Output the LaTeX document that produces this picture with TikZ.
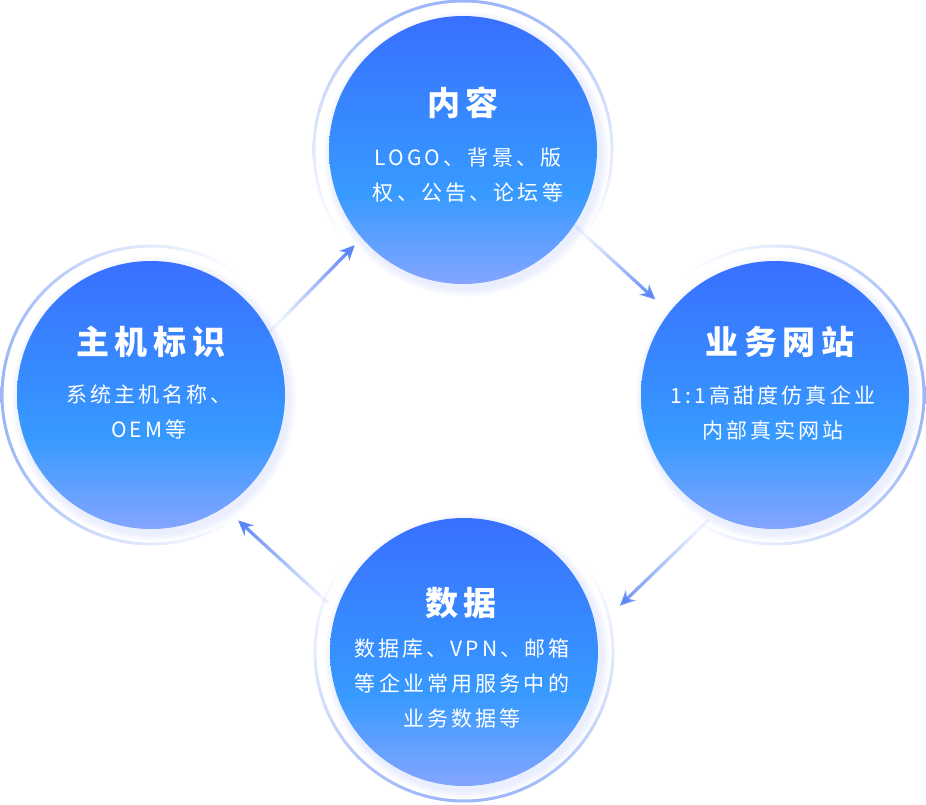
\documentclass[tikz,border=0pt]{standalone}
\usepackage{fontspec}
\usetikzlibrary{arrows.meta,fadings,backgrounds,calc}
\newfontfamily\cjktext[LetterSpace=15]{Noto Sans CJK SC}
\newfontfamily\cjktitle[LetterSpace=18]{Noto Sans CJK SC}

\definecolor{circtop}{HTML}{3870FF}
\definecolor{circmid}{HTML}{379AFF}
\definecolor{circbot}{HTML}{84A5FF}
\definecolor{ringc}{HTML}{9CB6F8}
\definecolor{arrowc}{HTML}{5A85F6}
\definecolor{glowc}{HTML}{4A6CF0}

\pgfdeclareverticalshading{bubbleshade}{100bp}{color(0bp)=(circbot); color(25bp)=(circbot); color(42bp)=(circmid); color(75bp)=(circtop); color(100bp)=(circtop)}
\pgfdeclareverticalshading{ringshade}{100bp}{color(0bp)=(white); color(35bp)=(white); color(58bp)=(ringc!45!white); color(75bp)=(ringc); color(100bp)=(ringc)}
\tikzfading[name=tailfade, left color=transparent!90, right color=transparent!0]

\tikzset{
  bubble/.style={circle, minimum size=268pt, inner sep=0pt, shading=bubbleshade},
  title/.style={text=white, font=\cjktitle\bfseries\fontsize{33}{38}\selectfont},
  body/.style={text=white, align=center, font=\cjktext\fontsize{21}{35}\selectfont},
  flow/.style={line width=3.2pt, arrowc, -{Stealth[length=15pt,width=14pt]}, path fading=tailfade}
}

\begin{document}
\begin{tikzpicture}[x=1pt,y=-1pt]
  \useasboundingbox (0,0) rectangle (926,804);

  % the four bubbles
  \node[bubble] (content) at (463,150) {};
  \node[bubble] (hostid) at (151,395) {};
  \node[bubble] (website) at (775,395) {};
  \node[bubble] (data) at (464,652) {};

  % soft glow and outer rings
  \begin{scope}[on background layer]
    \foreach \c/\a in {content/0, hostid/90, website/-90, data/180}{
      \foreach \k in {2,4,...,8}
        \fill[glowc, opacity=0.03] ($(\c.center)+(3,4)$) circle (134+\k);
      \shade[even odd rule, shading=ringshade, shading angle=\a]
        (\c.center) circle (150.5) (\c.center) circle (147.5);
    }
  \end{scope}

  % texts
  \node[title] (contenttitle) at ($(content.center)+(0,-47)$) {内容};
  \node[body] (contenttext) at ($(content.center)+(5,25)$) {LOGO、背景、版\\权、公告、论坛等};
  \node[title] (hostidtitle) at ($(hostid.center)+(0,-53)$) {主机标识};
  \node[body] (hostidtext) at ($(hostid.center)+(-2,16.5)$) {系统主机名称、\\OEM等};
  \node[title] (websitetitle) at ($(website.center)+(5,-53)$) {业务网站};
  \node[body] (websitetext) at ($(website.center)+(-2,17.5)$) {1:1高甜度仿真企业\\内部真实网站};
  \node[title] (datatitle) at ($(data.center)+(-3,-49)$) {数据};
  \node[body] (datatext) at ($(data.center)+(-2,31)$) {数据库、VPN、邮箱\\等企业常用服务中的\\业务数据等};

  % arrows round the cycle
  \draw[flow, shorten >=10pt, fading angle=45] (hostid.28) -- (content.221);
  \draw[flow, shorten >=19pt, fading angle=-43] (content.-34) -- (website.142);
  \draw[flow, shorten <=8pt, shorten >=33pt, fading angle=-136] (website.-117) -- (data.10);
  \draw[flow, shorten <=11pt, shorten >=19pt, fading angle=137] (data.162) -- (hostid.-57);
\end{tikzpicture}
\end{document}
